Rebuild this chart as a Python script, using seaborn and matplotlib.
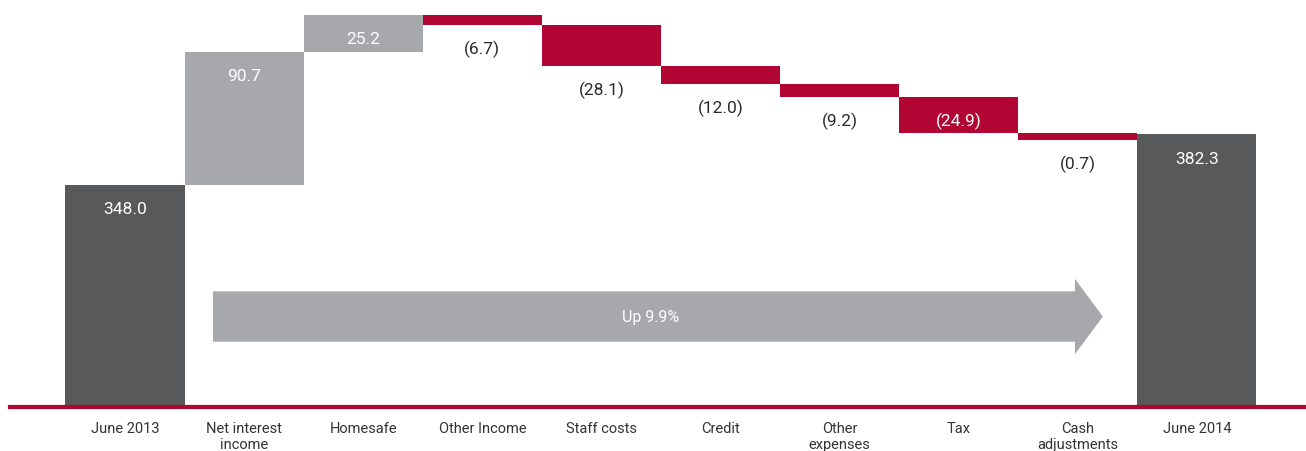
import matplotlib
matplotlib.use("Agg")
import matplotlib.pyplot as plt
from matplotlib.patches import FancyArrow
import seaborn as sns
import numpy as np
import pandas as pd

# ---- data ----
categories = ["June 2013", "Net interest\nincome", "Homesafe", "Other Income",
              "Staff costs", "Credit", "Other\nexpenses", "Tax",
              "Cash\nadjustments", "June 2014"]
changes = [348.0, 90.7, 25.2, -6.7, -28.1, -12.0, -9.2, -24.9, -0.7, 382.3]
kinds = ["total", "up", "up", "down", "down", "down", "down", "down", "down", "total"]
value_labels = ["348.0", "90.7", "25.2", "(6.7)", "(28.1)", "(12.0)", "(9.2)",
                "(24.9)", "(0.7)", "382.3"]
label_inside = [True, True, True, False, False, False, False, True, False, True]
arrow_text = "Up 9.9%"

MIN_VISIBLE = 4.5  # smallest drawn bar height (value units), so tiny steps stay visible

# ---- waterfall geometry from data ----
bases, heights = [], []
running = 0.0
for k, v in zip(kinds, changes):
    if k == "total":
        bases.append(0.0)
        heights.append(v)
        running = v
    elif v >= 0:
        bases.append(running)
        heights.append(v)
        running += v
    else:
        h = max(-v, MIN_VISIBLE)
        bases.append(running - h)
        heights.append(h)
        running += v

df = pd.DataFrame({"category": categories, "height": heights, "base": bases})

colors = {"total": "#58595B", "up": "#A7A8AC", "down": "#B10634"}

sns.set_theme(style="white")
plt.rcParams["font.family"] = ["Roboto", "DejaVu Sans"]

fig = plt.figure(figsize=(13.06, 4.52), dpi=100)
ax = fig.add_axes([10 / 1306, 44 / 452, 1 - 10 / 1306, 408 / 452])

sns.barplot(data=df, x="category", y="height", bottom=np.array(bases),
            order=categories, width=1.0, linewidth=0, color="#A7A8AC",
            ax=ax, errorbar=None)
for patch, k in zip(ax.patches, kinds):
    patch.set_facecolor(colors[k])
    patch.set_edgecolor("none")

ax.set_xlim(-0.966, 9.916)
ax.set_ylim(196.0, 474.9)

# value labels
for i, (b, h, lab, inside) in enumerate(zip(bases, heights, value_labels, label_inside)):
    top = b + h
    if inside:
        ax.annotate(lab, (i, top), xytext=(0, -17), textcoords="offset points",
                    ha="center", va="center", color="white", fontsize=12.5)
    else:
        ax.annotate(lab, (i, b), xytext=(0, -17), textcoords="offset points",
                    ha="center", va="center", color="#2b2b2b", fontsize=12.5)

# arrow
arr = FancyArrow(0.1566, 0.2217, 0.6867, 0.0, width=0.1232, head_width=0.1847,
                 head_length=0.0216, length_includes_head=True,
                 transform=ax.transAxes, color="#A7A8AC", linewidth=0)
ax.add_patch(arr)
ax.text(0.494, 0.2217, arrow_text, transform=ax.transAxes, ha="center",
        va="center", color="white", fontsize=11.5)

# axes styling
for s in ["top", "right", "left"]:
    ax.spines[s].set_visible(False)
ax.spines["bottom"].set_color("#B10634")
ax.spines["bottom"].set_linewidth(3)
ax.set_yticks([])
ax.set_xlabel("")
ax.set_ylabel("")
ax.tick_params(axis="x", length=0, pad=10)
ax.set_xticks(range(len(categories)))
ax.set_xticklabels(categories, fontsize=10.5, color="#333333")

fig.savefig("out.png", dpi=100)
